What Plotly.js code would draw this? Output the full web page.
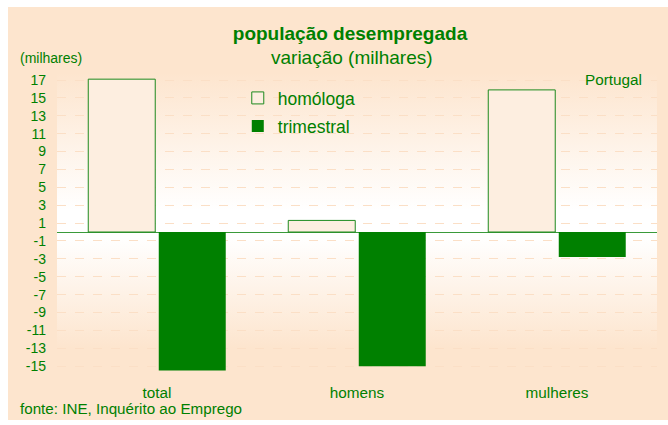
<!DOCTYPE html>
<html><head><meta charset="utf-8">
<script src="https://cdn.plot.ly/plotly-3.0.1.min.js"></script>
<style>
html,body{margin:0;padding:0;background:#ffffff;}
#chart{position:absolute;left:8px;top:7px;width:660px;height:413px;}
</style></head>
<body><div id="chart"></div>
<script>
const categories = ['total', 'homens', 'mulheres'];
const homologa = [17.1, 1.3, 15.9];
const trimestral = [-15.5, -15.0, -2.8];
const tickValues = [17, 15, 13, 11, 9, 7, 5, 3, 1, -1, -3, -5, -7, -9, -11, -13, -15];
const tickLabels = ['17', '15', '13', '11', '9', '7', '5', '3', '1', '-1', '-3', '-5', '-7', '-9', '-11', '-13', '-15'];
const seriesNames = ['homóloga', 'trimestral'];

const GREEN = '#008000';
const PEACH = '#FDE5CE';
const FONT = 'Liberation Sans, Arial, sans-serif';

const grad = "<svg xmlns='http://www.w3.org/2000/svg' width='10' height='100' preserveAspectRatio='none'>" +
  "<defs><linearGradient id='g' x1='0' y1='0' x2='0' y2='1'>" +
  "<stop offset='0' stop-color='#FDE5CE'/><stop offset='0.5' stop-color='#FFFFFF'/>" +
  "<stop offset='0.6' stop-color='#FFFFFF'/><stop offset='1' stop-color='#FDE5CE'/>" +
  "</linearGradient></defs><rect width='10' height='100' fill='url(#g)'/></svg>";
const gradSrc = 'data:image/svg+xml;charset=utf-8,' + encodeURIComponent(grad);

const traces = [
  {type: 'bar', name: seriesNames[0], x: categories, y: homologa,
   marker: {color: '#FDEEE0', line: {color: '#1E8A1E', width: 1}}, legend: 'legend'},
  {type: 'bar', name: seriesNames[1], x: categories, y: trimestral,
   marker: {color: GREEN, line: {width: 0}}, legend: 'legend2'}
];

const layout = {
  width: 660, height: 413,
  margin: {l: 49, r: 11, t: 66, b: 41},
  paper_bgcolor: PEACH,
  plot_bgcolor: 'rgba(0,0,0,0)',
  font: {family: FONT, color: GREEN, size: 14},
  barmode: 'group', bargap: 0.295, bargroupgap: 0.05,
  showlegend: true,
  title: {text: '<b>população desempregada</b>', font: {size: 19, color: GREEN, family: FONT},
          xref: 'container', x: 342/660, xanchor: 'center', yref: 'container', y: 1 - 26/413, yanchor: 'middle'},
  xaxis: {type: 'category', range: [-0.5, 2.5], showgrid: false, showline: false, zeroline: false,
          ticks: '', ticklabelstandoff: 3, tickfont: {size: 15.3, color: GREEN, family: FONT}},
  yaxis: {range: [-16.44, 17.79], tickvals: tickValues, ticktext: tickLabels,
          showgrid: true, gridcolor: '#FBDFC6', griddash: 'dash', gridwidth: 1,
          zeroline: true, zerolinecolor: '#3A9A3A', zerolinewidth: 1,
          showline: false, ticks: '', ticklabelstandoff: 10,
          tickfont: {size: 14, color: GREEN, family: FONT}},
  legend: {x: 0.3013, y: 0.977, xanchor: 'left', yanchor: 'top', bgcolor: 'rgba(0,0,0,0)',
           font: {size: 17.5, color: GREEN, family: FONT}},
  legend2: {x: 0.3013, y: 0.885, xanchor: 'left', yanchor: 'top', bgcolor: 'rgba(0,0,0,0)',
           font: {size: 17.5, color: GREEN, family: FONT}},
  images: [{source: gradSrc, xref: 'paper', yref: 'y', x: 0, y: 17.79, sizex: 1, sizey: 30.7,
            xanchor: 'left', yanchor: 'top', sizing: 'stretch', layer: 'below'}],
  annotations: [
    {text: 'variação (milhares)', xref: 'paper', yref: 'paper', x: (344-49)/600, y: 1 + (66-51)/306,
     xanchor: 'center', yanchor: 'middle', showarrow: false, font: {size: 19, color: GREEN}},
    {text: '(milhares)', xref: 'paper', yref: 'paper', x: (10-49)/600, y: 1 + (66-51)/306,
     xanchor: 'left', yanchor: 'middle', showarrow: false, font: {size: 14, color: GREEN}},
    {text: 'Portugal', xref: 'paper', yref: 'paper', x: (636-49)/600, y: 1 - (72-66)/306,
     xanchor: 'right', yanchor: 'middle', showarrow: false, font: {size: 15.3, color: GREEN}},
    {text: 'fonte: INE, Inquérito ao Emprego', xref: 'paper', yref: 'paper', x: (10-49)/600, y: -(401-372)/306,
     xanchor: 'left', yanchor: 'middle', showarrow: false, font: {size: 15.2, color: GREEN}}
  ]
};

Plotly.newPlot('chart', traces, layout, {displayModeBar: false, staticPlot: true});
</script></body></html>
